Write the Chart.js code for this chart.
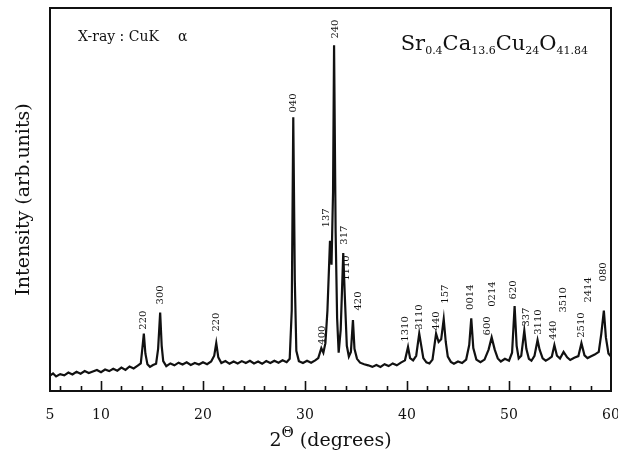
<!DOCTYPE html>
<html>
<head>
<meta charset="utf-8">
<script src="https://cdn.jsdelivr.net/npm/chart.js@4.4.1/dist/chart.umd.min.js"></script>
<style>
  html, body { margin: 0; padding: 0; background: #fff; }
  #wrap { width: 618px; height: 458px; }
</style>
</head>
<body>
<div id="wrap"><canvas id="xrd"></canvas></div>
<script>
// pattern: [2theta (deg), intensity (arb.)]
const scanLow = [
  [5.0,40],[5.3,46],[5.6,38],[6.0,44],[6.4,41],[6.8,48],[7.2,43],[7.6,50],[8.0,45],[8.4,52],
  [8.8,47],[9.2,51],[9.6,55],[10.0,49],[10.4,56],[10.8,52],[11.2,58],[11.6,53],[12.0,61],[12.4,55],
  [12.8,64],[13.2,59],[13.6,66],[13.9,72],[14.05,110],[14.2,150],[14.35,98],[14.55,70],[14.8,63],
  [15.1,68],[15.4,71],[15.6,110],[15.8,205],[15.95,118],[16.1,78],[16.4,65],[16.8,72],[17.2,67],
  [17.6,74],[18.0,69],[18.4,75],[18.8,68],[19.2,73],[19.6,69],[20.0,75],[20.4,70],[20.8,77],
  [21.1,92],[21.3,125],[21.5,88],[21.8,73]
];
const scanMid = [
  [22.2,78],[22.6,71],[23.0,77],[23.4,72],[23.8,78],[24.2,73],[24.6,79],[25.0,72],[25.4,77],
  [25.8,71],[26.2,78],[26.6,73],[27.0,79],[27.4,74],[27.8,80],[28.2,75],[28.5,84],[28.7,210],
  [28.85,715],[29.0,290],[29.15,105],[29.4,78],[29.8,73],[30.2,79],[30.6,74],[31.0,80],[31.3,86],
  [31.6,112],[31.8,100],[32.0,125],[32.2,210],[32.45,392],[32.6,330],[32.75,520],[32.85,903],
  [33.0,420],[33.15,190],[33.3,100],[33.5,160],[33.75,360],[33.9,250],[34.1,118],[34.3,90],
  [34.5,102],[34.7,185],[34.85,110],[35.1,84],[35.4,74],[35.8,70]
];
const scanHigh = [
  [36.2,67],[36.6,63],[37.0,68],[37.4,63],[37.8,70],[38.2,65],[38.6,72],[39.0,67],[39.4,74],
  [39.8,80],[40.1,115],[40.3,86],[40.6,80],[40.9,92],[41.2,150],[41.4,118],[41.6,86],[41.9,75],
  [42.2,72],[42.5,82],[42.85,150],[43.1,128],[43.35,135],[43.6,188],[43.8,128],[44.0,90],[44.3,76],
  [44.6,71],[45.0,77],[45.4,73],[45.8,82],[46.1,120],[46.3,190],[46.5,112],[46.8,82],[47.2,75],
  [47.6,82],[48.0,108],[48.3,140],[48.6,108],[48.9,85],[49.2,77],[49.6,84],[50.0,79],[50.3,100],
  [50.55,222],[50.75,118],[50.95,85],[51.2,92],[51.5,158],[51.7,110],[51.95,84],[52.2,79],[52.5,92],
  [52.8,133],[53.0,108],[53.3,85],[53.6,79],[53.9,84],[54.2,90],[54.45,120],[54.7,92],[55.0,85],
  [55.35,102],[55.7,88],[56.0,81],[56.4,87],[56.8,91],[57.1,125],[57.4,93],[57.7,86],[58.0,90],
  [58.4,95],[58.8,102],[59.05,150],[59.3,210],[59.5,140],[59.75,98],[60.0,90]
];

// hkl labels, their 2theta and the height they sit at
const peakNames = ['220','300','220','040','400','137','240','317','1110','420','1310','3110','440',
  '157','0014','600','0214','620','337','3110','440','3510','2510','2414','080'];
const peakTheta = [14.2,15.8,21.3,28.9,31.7,32.1,33.0,33.9,34.1,35.2,39.8,41.2,42.9,
  43.8,46.2,47.9,48.4,50.4,51.7,52.9,54.4,55.3,57.1,57.8,59.3];
const peakLabelHeight = [185,251,180,752,146,452,945,407,321,235,162,193,183,
  253,245,170,253,264,193,180,159,238,172,264,311];

const xTickValues = [6,8,10,12,14,16,18,20,22,24,26,28,30,32,34,36,38,40,42,44,46,48,50,52,54,56,58];
const xLabelValues = [5,10,20,30,40,50,60];

const serif = '"DejaVu Serif", "Liberation Serif", serif';

const decor = {
  id: 'decor',
  afterDraw(chart) {
    const {ctx, chartArea: a, scales: {x, y}} = chart;
    ctx.save();
    ctx.strokeStyle = '#111';
    ctx.lineWidth = 2;
    ctx.strokeRect(a.left, a.top, a.right - a.left, a.bottom - a.top);

    // ticks point inward from the bottom axis
    ctx.lineWidth = 1.6;
    ctx.beginPath();
    xTickValues.forEach(v => {
      const px = Math.round(x.getPixelForValue(v)) + 0.5;
      const len = v % 10 === 0 ? 10 : 5;
      ctx.moveTo(px, a.bottom);
      ctx.lineTo(px, a.bottom - len);
    });
    ctx.stroke();

    ctx.fillStyle = '#111';
    ctx.font = '10px ' + serif;
    ctx.textAlign = 'center';
    ctx.textBaseline = 'middle';
    peakNames.forEach((name, i) => {
      ctx.save();
      ctx.translate(x.getPixelForValue(peakTheta[i]), y.getPixelForValue(peakLabelHeight[i]));
      ctx.rotate(-Math.PI / 2);
      ctx.fillText(name, 0, 0);
      ctx.restore();
    });

    // radiation note
    ctx.textAlign = 'left';
    ctx.textBaseline = 'alphabetic';
    ctx.font = '14px ' + serif;
    ctx.fillText('X-ray : CuK', a.left + 28, 41);
    ctx.fillText('\u03b1', a.left + 128, 41);

    // composition, right aligned
    const parts = [['Sr',0],['0.4',1],['Ca',0],['13.6',1],['Cu',0],['24',1],['O',0],['41.84',1]];
    const big = '21px ' + serif, small = '11px ' + serif;
    let total = 0;
    parts.forEach(p => { ctx.font = p[1] ? small : big; total += ctx.measureText(p[0]).width; });
    let cx = 588 - total;
    parts.forEach(p => {
      ctx.font = p[1] ? small : big;
      ctx.fillText(p[0], cx, p[1] ? 54 : 50);
      cx += ctx.measureText(p[0]).width;
    });

    // x title with raised theta
    const tBig = '19px ' + serif, tSmall = '15px ' + serif;
    ctx.font = tBig;
    const w2 = ctx.measureText('2').width;
    const wD = ctx.measureText(' (degrees)').width;
    ctx.font = tSmall;
    const wT = ctx.measureText('\u0398').width;
    let tx = (a.left + a.right) / 2 - (w2 + wT + wD) / 2;
    ctx.font = tBig;
    ctx.fillText('2', tx, 446);
    tx += w2;
    ctx.font = tSmall;
    ctx.fillText('\u0398', tx, 437);
    tx += wT;
    ctx.font = tBig;
    ctx.fillText(' (degrees)', tx, 446);
    ctx.restore();
  }
};

const points = scanLow.concat(scanMid, scanHigh).map(p => ({x: p[0], y: p[1]}));

new Chart(document.getElementById('xrd'), {
  type: 'line',
  data: {
    datasets: [{
      data: points,
      borderColor: '#111',
      borderWidth: 2.2,
      pointRadius: 0,
      tension: 0,
      fill: false
    }]
  },
  options: {
    responsive: true,
    maintainAspectRatio: false,
    animation: false,
    layout: { padding: { top: 8, right: 7, left: 0, bottom: 0 } },
    plugins: { legend: { display: false }, tooltip: { enabled: false } },
    scales: {
      x: {
        type: 'linear',
        min: 5,
        max: 60,
        grid: { display: false },
        border: { display: false },
        afterBuildTicks: scale => { scale.ticks = xLabelValues.map(v => ({value: v})); },
        afterFit: scale => { scale.height = 67; scale.paddingLeft = 0; scale.paddingRight = 0; },
        ticks: {
          autoSkip: false,
          maxRotation: 0,
          padding: 8,
          color: '#111',
          font: { family: serif, size: 14 }
        }
      },
      y: {
        min: 0,
        max: 1000,
        grid: { display: false },
        border: { display: false },
        ticks: { display: false },
        afterFit: scale => { scale.width = 50; },
        title: {
          display: true,
          text: 'Intensity (arb.units)',
          color: '#111',
          padding: { top: 13, bottom: 0 },
          font: { family: serif, size: 19 }
        }
      }
    }
  },
  plugins: [decor]
});
</script>
</body>
</html>
